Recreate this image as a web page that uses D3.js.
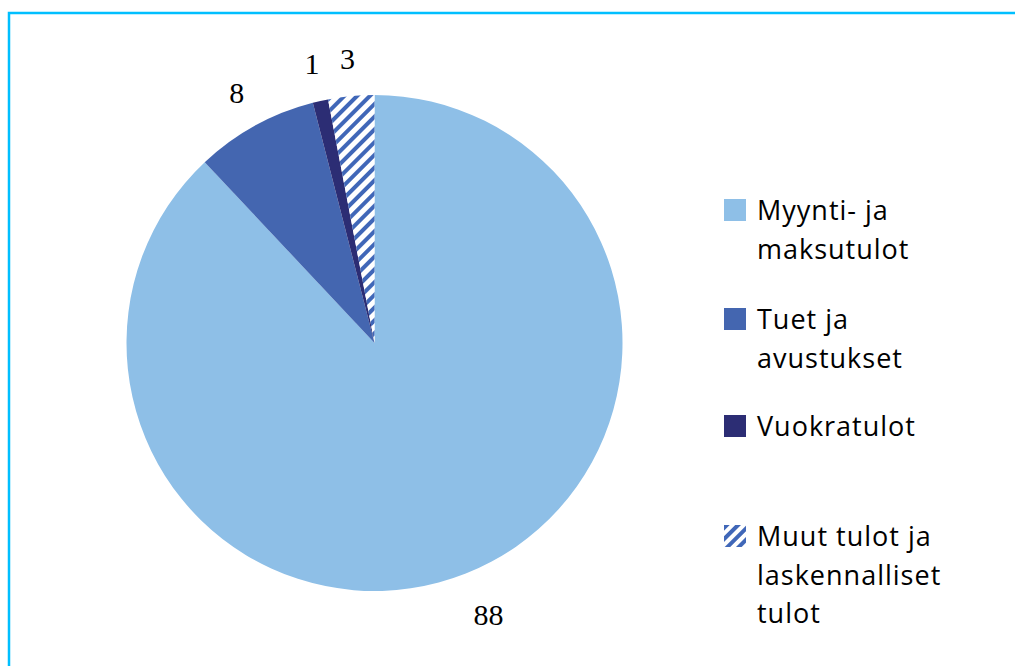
<!DOCTYPE html>
<html><head><meta charset="utf-8">
<script src="https://cdn.jsdelivr.net/npm/d3@7"></script>
<style>body{margin:0;background:#fff}svg{display:block}</style>
</head><body><svg id="c" width="1015" height="666"></svg>
<script>
const categories = ["Myynti- ja maksutulot", "Tuet ja avustukset", "Vuokratulot", "Muut tulot ja laskennalliset tulot"];
const legendLines = [["Myynti- ja","maksutulot"],["Tuet ja","avustukset"],["Vuokratulot"],["Muut tulot ja","laskennalliset","tulot"]];
const values = [88, 8, 1, 3];
const colors = ["#8EBFE7", "#4466B0", "#2C2D74", "hatch"];

const svg = d3.select("#c");
const defs = svg.append("defs");
const pat = defs.append("pattern").attr("id","hatch").attr("patternUnits","userSpaceOnUse")
  .attr("width",9).attr("height",9).attr("patternTransform","rotate(45)");
pat.append("rect").attr("width",9).attr("height",9).attr("fill","#fff");
pat.append("rect").attr("x",0).attr("width",4).attr("height",9).attr("fill","#4067B8");
const fillOf = c => c === "hatch" ? "url(#hatch)" : c;

// border
svg.append("path").attr("d","M9,680 L9,13 L1030,13").attr("fill","none").attr("stroke","#00BFFF").attr("stroke-width",2.5);

const cx = 374.5, cy = 343, R = 248;
const pie = d3.pie().sort(null).value(d => d)(values);
const arc = d3.arc().innerRadius(0).outerRadius(R);
const g = svg.append("g").attr("transform",`translate(${cx},${cy})`);
g.selectAll("path").data(pie).join("path").attr("d",arc).attr("fill",(d,i)=>fillOf(colors[i]));

const labelArc = d3.arc().innerRadius(286).outerRadius(286);
g.selectAll("text").data(pie).join("text")
  .attr("transform",d=>{
    const [x,y] = labelArc.centroid(d);
    const a = (d.startAngle+d.endAngle)/2;
    return `translate(${x + Math.max(0, Math.sin(a))*24},${y + Math.max(0,-Math.cos(a))*6})`;
  })
  .attr("text-anchor","middle").attr("dominant-baseline","central")
  .attr("font-family","Liberation Serif, serif").attr("font-size",30).attr("fill","#000")
  .text(d=>d.value);

// legend
const lx = 724, ly = [199, 308, 415, 525];
const lg = svg.append("g");
categories.forEach((c,i)=>{
  const it = lg.append("g").attr("transform",`translate(${lx},${ly[i]})`);
  if (colors[i] === "hatch") {
    const p2 = defs.append("pattern").attr("id","hatchL").attr("patternUnits","userSpaceOnUse")
      .attr("width",8).attr("height",8).attr("patternTransform","rotate(45)");
    p2.append("rect").attr("width",8).attr("height",8).attr("fill","#fff");
    p2.append("rect").attr("width",4).attr("height",8).attr("fill","#4067B8");
    it.append("rect").attr("width",22).attr("height",22).attr("fill","url(#hatchL)");
  } else {
    it.append("rect").attr("width",22).attr("height",22).attr("fill",colors[i]);
  }
  const t = it.append("text").attr("x",33).attr("y",21)
    .attr("font-family","Open Sans, sans-serif").attr("font-size",27).attr("letter-spacing",1).attr("fill","#000");
  legendLines[i].forEach((ln,j)=>{
    t.append("tspan").attr("x",33).attr("dy", j===0 ? 0 : 38.5).text(ln);
  });
});
</script></body></html>
